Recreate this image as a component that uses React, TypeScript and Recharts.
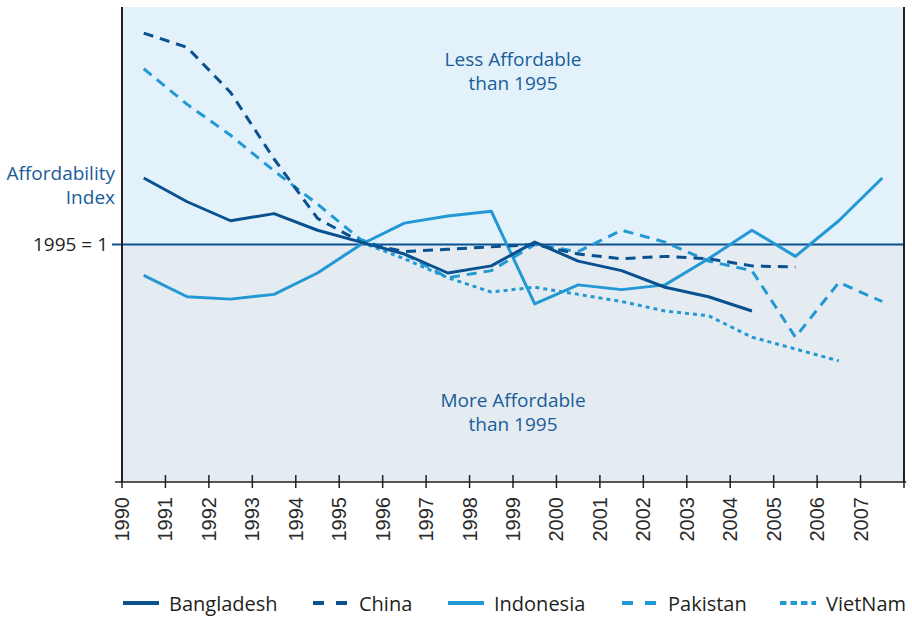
import {
  LineChart,
  Line,
  XAxis,
  YAxis,
  ReferenceArea,
  ReferenceLine,
  Customized
} from 'recharts';

const years = [1990, 1991, 1992, 1993, 1994, 1995, 1996, 1997, 1998, 1999, 2000, 2001, 2002, 2003, 2004, 2005, 2006, 2007];
const tickYears = [...years, 2008];

// index relative to 1995 = 1, plotted at mid-year
const bangladesh = [1.28, 1.18, 1.1, 1.13, 1.06, 1.01, 0.96, 0.88, 0.91, 1.01, 0.93, 0.89, 0.82, 0.78, 0.72];
const china = [1.89, 1.83, 1.64, 1.36, 1.11, 1.01, 0.97, 0.98, 0.99, 1.0, 0.96, 0.94, 0.95, 0.94, 0.91, 0.905];
const indonesia = [0.87, 0.78, 0.77, 0.79, 0.88, 1.0, 1.09, 1.12, 1.14, 0.75, 0.83, 0.81, 0.83, 0.94, 1.06, 0.95, 1.1, 1.28];
const pakistan = [1.74, 1.59, 1.46, 1.31, 1.17, 1.02, 0.96, 0.86, 0.89, 1.0, 0.97, 1.06, 1.01, 0.93, 0.89, 0.61, 0.84, 0.76];
const vietnam = [null, null, null, null, null, 1.01, 0.94, 0.86, 0.8, 0.82, 0.79, 0.76, 0.72, 0.7, 0.61, 0.56, 0.51];

const DARK = '#0a5190';
const BRIGHT = '#2298d5';
const TEXT_BLUE = '#1a5c9a';
const INK = '#231f20';
const FONT = '"Open Sans", sans-serif';

const data = years.map((y, i) => ({
  year: y + 0.5,
  bangladesh: bangladesh[i] ?? null,
  china: china[i] ?? null,
  indonesia: indonesia[i] ?? null,
  pakistan: pakistan[i] ?? null,
  vietnam: vietnam[i] ?? null
}));

const legendItems = [
  { name: 'Bangladesh', color: DARK, dash: undefined, left: 123 },
  { name: 'China', color: DARK, dash: '11 12', left: 313 },
  { name: 'Indonesia', color: BRIGHT, dash: undefined, left: 448 },
  { name: 'Pakistan', color: BRIGHT, dash: '11 12', left: 622 },
  { name: 'VietNam', color: BRIGHT, dash: '6.5 4', left: 780 }
];

const YearTick = ({ x, y, payload }: any) => (
  <g>
    <line x1={x} x2={x} y1={y - 7} y2={y + 6} stroke={INK} strokeWidth={1.5} />
    {payload.value < 2008 && (
      <text
        x={x}
        y={y + 15}
        transform={`rotate(-90 ${x} ${y + 15})`}
        textAnchor="end"
        dominantBaseline="central"
        fontFamily='"Liberation Sans", Arial, sans-serif'
        fontSize={20}
        fill="#2b2b2b"
      >
        {payload.value}
      </text>
    )}
  </g>
);

// two-line note drawn on top of a shaded region
const regionNote = (first: string, top: number) => () => (
  <text textAnchor="middle" fontFamily={FONT} fontSize={19} fill={TEXT_BLUE}>
    <tspan x={513} y={top}>{first}</tspan>
    <tspan x={513} dy={24}>than 1995</tspan>
  </text>
);

const SideText = () => (
  <g fontFamily={FONT} fontSize={19}>
    <text textAnchor="end" fill={TEXT_BLUE}>
      <tspan x={115} y={180}>Affordability</tspan>
      <tspan x={115} dy={24}>Index</tspan>
    </text>
    <text x={108} y={251} textAnchor="end" fill={INK}>1995 = 1</text>
  </g>
);

export default function App() {
  return (
    <div style={{ position: 'absolute', left: 0, top: 0, width: 912, height: 617, background: '#fff' }}>
      <LineChart
        width={912}
        height={617}
        data={data}
        margin={{ top: 7, right: 8, left: 122, bottom: 75 }}
      >
        <XAxis
          dataKey="year"
          type="number"
          domain={[1990, 2008]}
          ticks={tickYears}
          allowDataOverflow
          axisLine={false}
          tickLine={false}
          tickSize={0}
          tickMargin={0}
          height={60}
          interval={0}
          tick={<YearTick />}
        />
        <YAxis hide domain={[0, 2]} allowDataOverflow />

        <ReferenceArea
          x1={1990} x2={2008} y1={1} y2={2}
          fill="#e3f2fa" fillOpacity={1} stroke="none"
          label={regionNote('Less Affordable', 66)}
        />
        <ReferenceArea
          x1={1990} x2={2008} y1={0} y2={1}
          fill="#e4ecf2" fillOpacity={1} stroke="none"
          label={regionNote('More Affordable', 407)}
        />

        <ReferenceLine
          segment={[{ x: 1989.77, y: 1 }, { x: 2008, y: 1 }]}
          ifOverflow="visible"
          stroke={DARK}
          strokeWidth={2}
        />
        <ReferenceLine
          segment={[{ x: 1989.84, y: 0 }, { x: 2008.05, y: 0 }]}
          ifOverflow="visible"
          stroke={INK}
          strokeWidth={1.5}
        />
        <ReferenceLine x={1990} stroke={INK} strokeWidth={2} />
        <ReferenceLine x={2008} stroke={INK} strokeWidth={2} />

        <Line dataKey="vietnam" stroke={BRIGHT} strokeWidth={3} strokeDasharray="4 4" dot={false} isAnimationActive={false} strokeLinejoin="round" />
        <Line dataKey="pakistan" stroke={BRIGHT} strokeWidth={3} strokeDasharray="10 7" dot={false} isAnimationActive={false} strokeLinejoin="round" />
        <Line dataKey="indonesia" stroke={BRIGHT} strokeWidth={3} dot={false} isAnimationActive={false} strokeLinejoin="round" />
        <Line dataKey="china" stroke={DARK} strokeWidth={3} strokeDasharray="10 7" dot={false} isAnimationActive={false} strokeLinejoin="round" />
        <Line dataKey="bangladesh" stroke={DARK} strokeWidth={3} dot={false} isAnimationActive={false} strokeLinejoin="round" />

        <Customized component={<SideText />} />
      </LineChart>

      {legendItems.map((item) => (
        <div
          key={item.name}
          style={{ position: 'absolute', left: item.left, top: 589, height: 28, display: 'flex', alignItems: 'center', fontFamily: FONT, fontSize: 20, color: INK }}
        >
          <svg width={36} height={10} style={{ marginRight: 10 }}>
            <line x1={0} x2={36} y1={5} y2={5} stroke={item.color} strokeWidth={4} strokeDasharray={item.dash} />
          </svg>
          <span>{item.name}</span>
        </div>
      ))}
    </div>
  );
}
